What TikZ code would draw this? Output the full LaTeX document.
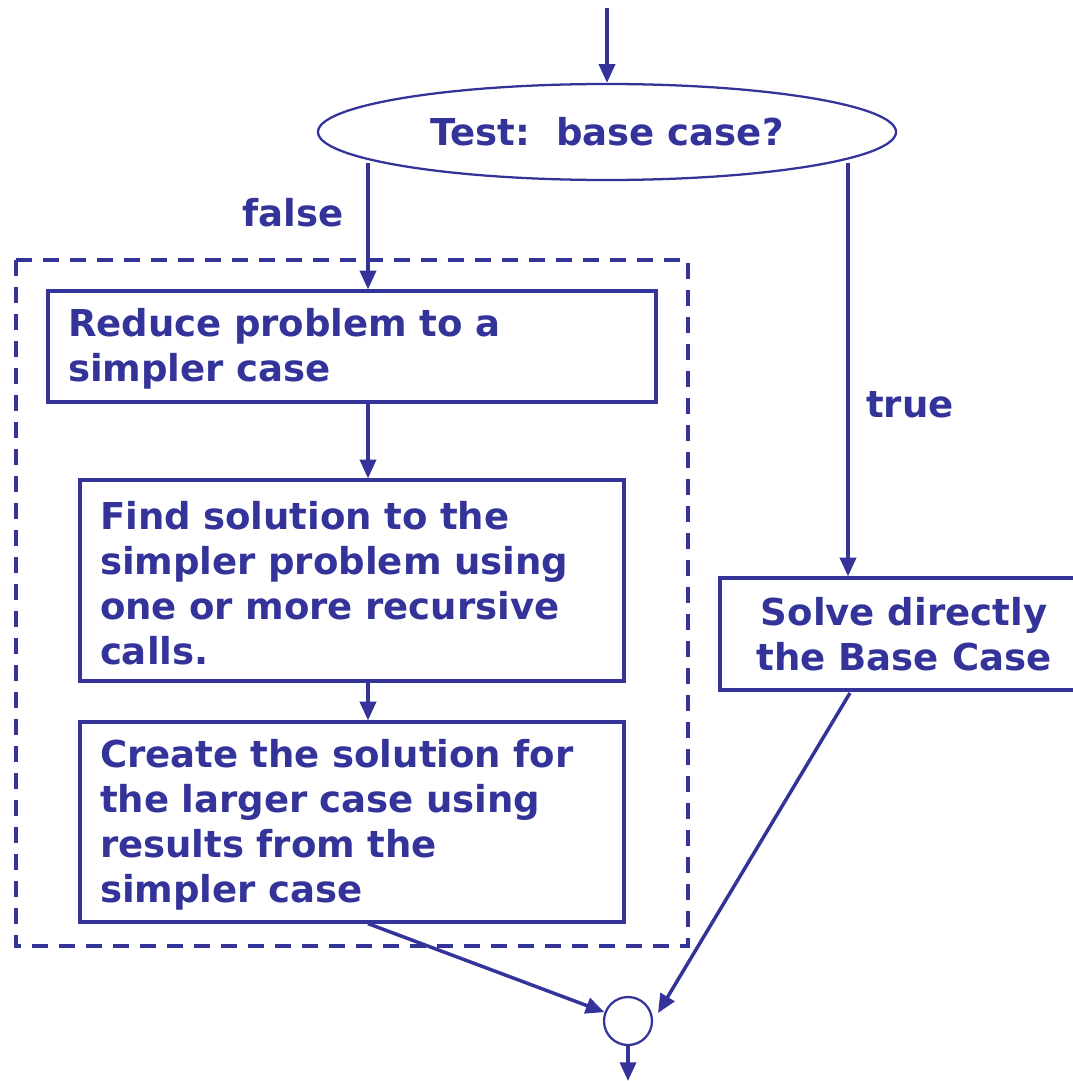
\documentclass[tikz,border=0pt]{standalone}
\usepackage{fontspec}
\setmainfont{DejaVu Sans}
\usetikzlibrary{shapes.geometric,arrows.meta,calc}
\definecolor{dblue}{RGB}{51,51,153}
\begin{document}
\begin{tikzpicture}[x=0.75pt,y=-0.75pt,
  every node/.style={text=dblue,font=\fontsize{27.8pt}{33.75pt}\selectfont\bfseries},
  stepbox/.style={draw=dblue,line width=2.4pt,rectangle,inner xsep=15pt,inner ysep=0pt,align=left},
  conn/.style={draw=dblue,line width=2.6pt},
  arr/.style={conn,-{Triangle[width=12pt,length=14pt]}},
  lbl/.style={inner sep=0pt}
]
\useasboundingbox (0,0) rectangle (1073,1081);
% dashed frame
\draw[dblue,line width=2.6pt,dash pattern=on 12pt off 8.25pt] (16,260) rectangle (688,946);
% nodes
\node[ellipse,draw=dblue,line width=1.7pt,minimum width=433.5pt,minimum height=72pt,inner sep=0pt] (test) at (607,132) {Test:\ \ base case?};
\node[stepbox,text width=426pt,minimum height=83.25pt] (box1) at (352,346.5) {\rule{0pt}{25pt}Reduce problem to a\\simpler case};
\node[stepbox,text width=378pt,minimum height=150.75pt] (box2) at (352,580.5) {\rule{0pt}{25pt}Find solution to the\\simpler problem using\\one or more recursive\\calls.};
\node[stepbox,text width=378pt,minimum height=150pt] (box3) at (352,822) {\rule{0pt}{25pt}Create the solution for\\the larger case using\\results from the\\simpler case};
\node[draw=dblue,line width=2.4pt,rectangle,inner sep=0pt,align=center,minimum width=276pt,minimum height=84pt] (solve) at (904,634) {Solve directly\\the Base Case};
\node[circle,draw=dblue,line width=1.7pt,minimum size=36pt,inner sep=0pt] (join) at (628,1021) {};
\node[lbl] (false) at (293,213) {false};
\node[lbl] (true) at (910,405) {true};
% coordinates
\coordinate (in) at (607,8);
\coordinate (fs) at (368,163);
\coordinate (ts) at (848,163);
\coordinate (ss) at (850,693);
\coordinate (jr) at (658,1013);
\coordinate (out) at (628,1081);
% connectors
\draw[arr] (in) -- (test.north);
\draw[arr] (fs) -- (box1.north -| fs);
\draw[arr] (box1.south -| fs) -- (box2.north -| fs);
\draw[arr] (box2.south -| fs) -- (box3.north -| fs);
\draw[arr] (ts) -- (solve.north -| ts);
\draw[arr] (box3.south -| fs) -- (join);
\draw[arr] (ss) -- (jr);
\draw[arr] (join.south) -- (out);
\end{tikzpicture}
\end{document}
